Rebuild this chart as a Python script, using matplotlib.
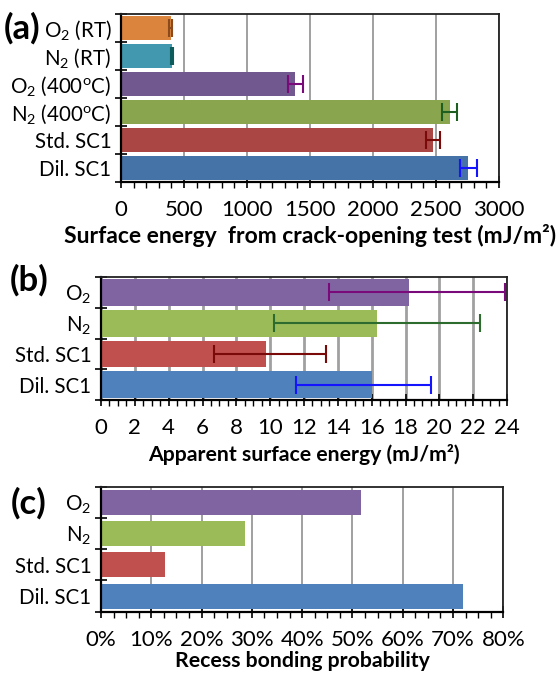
import matplotlib
matplotlib.use("Agg")
import matplotlib.pyplot as plt
from matplotlib.ticker import MultipleLocator, FuncFormatter

plt.rcParams['font.family'] = ['Lato', 'DejaVu Sans']
plt.rcParams['mathtext.fontset'] = 'custom'
plt.rcParams['mathtext.rm'] = 'Lato'
plt.rcParams['mathtext.it'] = 'Lato:italic'
plt.rcParams['mathtext.bf'] = 'Lato:bold'

# (a) crack-opening test
labels_a = ['O$_2$ (RT)', 'N$_2$ (RT)', 'O$_2$ (400$^{\\mathrm{o}}$C)',
            'N$_2$ (400$^{\\mathrm{o}}$C)', 'Std. SC1', 'Dil. SC1']
energy_a = [395, 405, 1383, 2608, 2474, 2757]
err_a = [12, 8, 58, 57, 55, 68]

# (b) apparent surface energy
labels_b = ['O$_2$', 'N$_2$', 'Std. SC1', 'Dil. SC1']
energy_b = [18.2, 16.3, 9.75, 16.0]
err_b_low = [4.7, 6.1, 3.05, 4.5]
err_b_high = [5.7, 6.1, 3.55, 3.5]

# (c) recess bonding probability
labels_c = ['O$_2$', 'N$_2$', 'Std. SC1', 'Dil. SC1']
prob_c = [51.6, 28.6, 12.7, 71.9]

colors_a = ['#DB843D', '#4198AF', '#71588F', '#89A54E', '#AA4643', '#4572A7']
ecolors_a = ['#8B4A1E', '#0E5C5C', '#7A0A7A', '#1E5E1E', '#7A0A0A', '#1414FF']
colors_bc = ['#8064A2', '#9BBB59', '#C0504D', '#4F81BD']
ecolors_b = ['#7A0A7A', '#2E6B2E', '#7A0A0A', '#1414FF']

XTICK_FS = 16
YTICK_FS = 14.8


def style_axes(ax, n, xmax, major, minor):
    ax.set_ylim(n - 0.5, -0.5)
    ax.set_xlim(0, xmax)
    ax.xaxis.set_major_locator(MultipleLocator(major))
    ax.xaxis.set_minor_locator(MultipleLocator(minor))
    ax.set_yticks(range(n))
    ax.set_yticks([i + 0.5 for i in range(-1, n)], minor=True)
    ax.tick_params(axis='y', which='major', length=0, pad=7, labelsize=YTICK_FS)
    ax.tick_params(axis='y', which='minor', direction='inout', length=8, width=1.2)
    ax.tick_params(axis='x', which='major', direction='inout', length=8, width=1.2,
                   labelsize=XTICK_FS, pad=9)
    ax.tick_params(axis='x', which='minor', direction='out', length=4, width=1.0)
    ax.grid(axis='x', which='major', color='#A0A0A0', lw=1.4)
    ax.set_axisbelow(True)
    for side in ['left', 'bottom']:
        ax.spines[side].set_linewidth(1.6)
        ax.spines[side].set_color('black')
    for side in ['top', 'right']:
        ax.spines[side].set_linewidth(1.3)
        ax.spines[side].set_color('#222222')


fig = plt.figure(figsize=(5.59, 6.75), dpi=100)

# panel (a)
ax_a = fig.add_axes([0.2165, 0.7304, 0.6762, 0.2489])
for i in range(len(energy_a)):
    ax_a.barh(i, energy_a[i], height=0.86, color=colors_a[i], zorder=2)
    ax_a.errorbar(energy_a[i], i, xerr=err_a[i], fmt='none', ecolor=ecolors_a[i],
                  elinewidth=1.5, capsize=6.5, capthick=1.5, zorder=3)
style_axes(ax_a, len(energy_a), 3000, 500, 100)
ax_a.set_yticklabels(labels_a)
ax_a.set_xlabel('Surface energy  from crack-opening test (mJ/m²)',
                fontsize=16.5, fontweight='bold', labelpad=3)

# panel (b)
ax_b = fig.add_axes([0.1807, 0.4074, 0.7263, 0.1822])
for i in range(len(energy_b)):
    ax_b.barh(i, energy_b[i], height=0.87, color=colors_bc[i], zorder=2)
    ax_b.errorbar(energy_b[i], i, xerr=[[err_b_low[i]], [err_b_high[i]]], fmt='none',
                  ecolor=ecolors_b[i], elinewidth=1.5, capsize=6.5, capthick=1.5,
                  zorder=3, clip_on=False)
style_axes(ax_b, len(energy_b), 24, 2, 0.5)
ax_b.grid(axis='x', which='major', color='#A0A0A0', lw=2.0)
ax_b.set_yticklabels(labels_b)
ax_b.set_xlabel('Apparent surface energy (mJ/m²)',
                fontsize=15.3, fontweight='bold', labelpad=4)

# panel (c)
ax_c = fig.add_axes([0.1807, 0.0938, 0.7197, 0.1852])
for i in range(len(prob_c)):
    ax_c.barh(i, prob_c[i], height=0.8, color=colors_bc[i], zorder=2)
style_axes(ax_c, len(prob_c), 80, 10, 2.5)
ax_c.xaxis.set_major_formatter(FuncFormatter(lambda v, p: f'{v:.0f}%'))
ax_c.set_yticklabels(labels_c)
ax_c.set_xlabel('Recess bonding probability',
                fontsize=15.3, fontweight='bold', labelpad=1)

# panel letters
for letter, x, y in [('(a)', 0.007, 0.958), ('(b)', 0.018, 0.585), ('(c)', 0.02, 0.255)]:
    fig.text(x, y, letter, fontsize=25, fontweight='bold', va='center', ha='left')

fig.savefig('out.png', dpi=100)
